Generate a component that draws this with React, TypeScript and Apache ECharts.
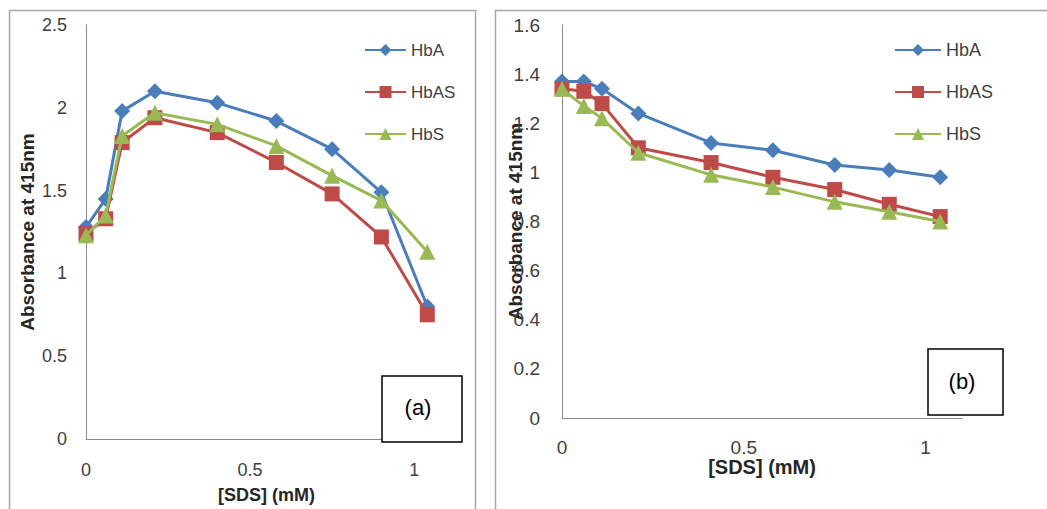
import React, { useEffect, useRef } from "react";
import * as echarts from "echarts";

const sdsA = [0, 0.06, 0.11, 0.21, 0.4, 0.58, 0.75, 0.9, 1.04];
const hbA_a = [1.28, 1.45, 1.98, 2.1, 2.03, 1.92, 1.75, 1.49, 0.8];
const hbAS_a = [1.24, 1.33, 1.79, 1.94, 1.85, 1.67, 1.48, 1.22, 0.75];
const hbS_a = [1.23, 1.35, 1.83, 1.97, 1.9, 1.77, 1.59, 1.44, 1.13];

const sdsB = [0, 0.06, 0.11, 0.21, 0.41, 0.58, 0.75, 0.9, 1.04];
const hbA_b = [1.37, 1.37, 1.34, 1.24, 1.12, 1.09, 1.03, 1.01, 0.98];
const hbAS_b = [1.34, 1.33, 1.28, 1.1, 1.04, 0.98, 0.93, 0.87, 0.82];
const hbS_b = [1.34, 1.27, 1.22, 1.08, 0.99, 0.94, 0.88, 0.84, 0.8];

const seriesNames = ["HbA", "HbAS", "HbS"];
const colors = ["#4A7EBB", "#BE4B48", "#98B954"];
const symbols = ["diamond", "rect", "triangle"];
const symbolSizes = [16, 15, 16];

const FONT = "'Liberation Sans', Arial, sans-serif";

function pairs(xs: number[], ys: number[]) {
  return xs.map((x, i) => [x, ys[i]]);
}

export default function App() {
  const ref = useRef<HTMLDivElement>(null);
  useEffect(() => {
    if (!ref.current) return;
    const chart = echarts.init(ref.current, null, { renderer: "svg" });
    const setsA = [hbA_a, hbAS_a, hbS_a];
    const setsB = [hbA_b, hbAS_b, hbS_b];
    const mkSeries = (sets: number[][], xs: number[], idx: number) =>
      sets.map((ys, i) => ({
        name: seriesNames[i],
        type: "line",
        xAxisIndex: idx,
        yAxisIndex: idx,
        data: pairs(xs, ys),
        symbol: symbols[i],
        symbolSize: symbolSizes[i],
        lineStyle: { color: colors[i], width: 3 },
        itemStyle: { color: colors[i] },
        z: 2 + i,
      }));
    const axisLine = { show: true, onZero: false, lineStyle: { color: "#8a8a8a", width: 1 } };
    const xAxisBase = (gi: number, margin: number, nameGap: number, nameSize: number, labelSize: number) => ({
      type: "value",
      gridIndex: gi,
      position: "bottom",
      min: 0,
      max: 1.1,
      interval: 0.5,
      axisLine,
      axisTick: { show: false },
      splitLine: { show: false },
      axisLabel: { showMaxLabel: false, margin, color: "#404040", fontSize: labelSize, fontFamily: FONT },
      name: "[SDS] (mM)",
      nameLocation: "middle",
      nameGap,
      nameMoveOverlap: false,
      nameTextStyle: { fontWeight: "bold", fontSize: nameSize, color: "#262626", fontFamily: FONT },
    });
    const yAxisBase = (gi: number, max: number, interval: number, margin: number, nameGap: number, labelSize: number) => ({
      type: "value",
      gridIndex: gi,
      position: "left",
      min: 0,
      max,
      interval,
      axisLine,
      axisTick: { show: false },
      splitLine: { show: false },
      axisLabel: { margin, color: "#404040", fontSize: labelSize, fontFamily: FONT },
      name: "Absorbance at 415nm",
      nameLocation: "middle",
      nameRotate: 90,
      nameGap,
      nameMoveOverlap: false,
      nameTextStyle: { fontWeight: "bold", fontSize: 19, color: "#262626", fontFamily: FONT },
    });
    const legendBase = (left: number, w: number, fs: number) => ({
      orient: "vertical",
      left,
      top: 35,
      itemWidth: w,
      itemHeight: 15,
      itemGap: 22,
      data: seriesNames,
      textStyle: { fontSize: fs, color: "#404040", fontFamily: FONT, lineHeight: 20 },
    });
    chart.setOption({
      animation: false,
      backgroundColor: "#ffffff",
      grid: [
        { left: 86, top: 25, width: 361, height: 417 },
        { left: 562, top: 25, width: 400, height: 393 },
      ],
      xAxis: [xAxisBase(0, 22, 47, 18, 18), xAxisBase(1, 20, 39, 20, 19)],
      yAxis: [yAxisBase(0, 2.5, 0.5, 19, 49, 18), yAxisBase(1, 1.6, 0.2, 22, 37, 19)],
      legend: [legendBase(359, 41, 17), legendBase(889, 46, 18)],
      series: [...mkSeries(setsA, sdsA, 0), ...mkSeries(setsB, sdsB, 1)],
      graphic: [
        { type: "rect", shape: { x: 9.5, y: 10.5, width: 466, height: 520 }, style: { fill: "none", stroke: "#a6a6a6", lineWidth: 1.5 }, silent: true },
        { type: "rect", shape: { x: 495.5, y: 10.5, width: 600, height: 520 }, style: { fill: "none", stroke: "#a6a6a6", lineWidth: 1.5 }, silent: true },
        { type: "rect", shape: { x: 382, y: 376, width: 80, height: 66 }, style: { fill: "#ffffff", stroke: "#000000", lineWidth: 1.5 }, z: 10 },
        { type: "text", x: 418, y: 407, style: { text: "(a)", fontSize: 22, fill: "#000000", fontFamily: FONT, align: "center", verticalAlign: "middle" }, z: 11 },
        { type: "rect", shape: { x: 928, y: 349, width: 75, height: 66 }, style: { fill: "#ffffff", stroke: "#000000", lineWidth: 1.5 }, z: 10 },
        { type: "text", x: 962, y: 381, style: { text: "(b)", fontSize: 22, fill: "#000000", fontFamily: FONT, align: "center", verticalAlign: "middle" }, z: 11 },
      ],
    });
    return () => chart.dispose();
  }, []);
  return <div ref={ref} style={{ position: "fixed", left: 0, top: 0, width: 1047, height: 509 }} />;
}
